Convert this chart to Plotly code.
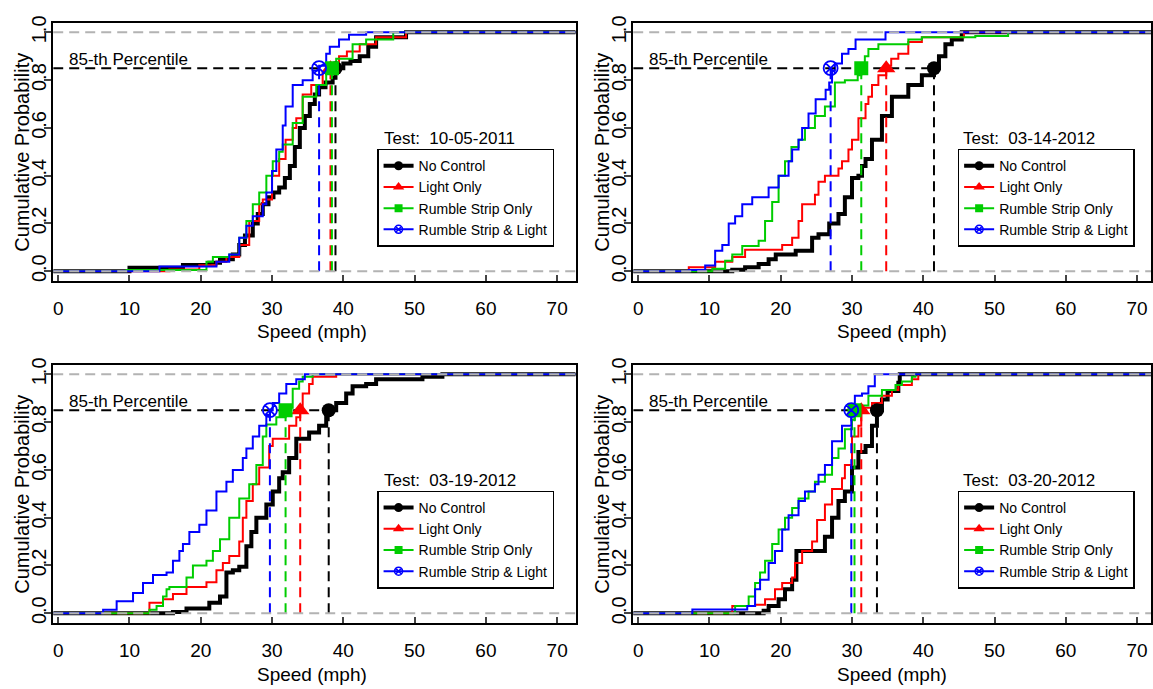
import plotly.graph_objects as go

# ---------------- data ----------------
series_names = ["No Control", "Light Only", "Rumble Strip Only", "Rumble Strip & Light"]
test_dates = ["10-05-2011", "03-14-2012", "03-19-2012", "03-20-2012"]

# Test 10-05-2011
t1_nc_speed = [10.0, 17.5, 21.2, 22.7, 24.5, 25.4, 26.2, 27.3, 28.0, 28.7, 29.5, 30.2, 31.0, 31.8, 32.5, 33.2, 33.9, 34.6, 35.3, 36.0, 36.6, 37.5, 38.5, 38.9, 40.0, 41.0, 42.3, 43.5, 44.6, 48.8]
t1_nc_prob = [0.014, 0.026, 0.035, 0.05, 0.07, 0.11, 0.15, 0.20, 0.24, 0.28, 0.31, 0.33, 0.35, 0.39, 0.44, 0.52, 0.60, 0.65, 0.70, 0.74, 0.77, 0.79, 0.81, 0.85, 0.87, 0.88, 0.90, 0.94, 0.98, 1.0]
t1_lo_speed = [15.6, 19.8, 22.2, 23.6, 25.4, 26.8, 28.2, 28.7, 30.0, 31.0, 31.9, 32.9, 33.4, 34.3, 35.5, 37.1, 38.2, 39.4, 40.5, 42.3, 44.6, 48.8]
t1_lo_prob = [0.007, 0.025, 0.04, 0.06, 0.11, 0.21, 0.28, 0.30, 0.40, 0.47, 0.55, 0.60, 0.64, 0.74, 0.78, 0.83, 0.85, 0.90, 0.92, 0.95, 0.98, 1.0]
t1_rs_speed = [9.6, 20.8, 21.7, 24.0, 25.4, 26.4, 27.3, 28.2, 29.2, 30.1, 31.0, 31.5, 32.9, 34.3, 36.2, 37.6, 38.4, 39.0, 41.3, 43.2, 47.0]
t1_rs_prob = [0.005, 0.04, 0.06, 0.07, 0.14, 0.21, 0.28, 0.33, 0.40, 0.46, 0.50, 0.53, 0.62, 0.73, 0.78, 0.84, 0.86, 0.89, 0.95, 0.97, 1.0]
t1_rsl_speed = [14.2, 22.2, 24.0, 25.4, 26.4, 27.3, 28.7, 29.2, 30.0, 30.6, 31.5, 31.9, 32.9, 34.3, 35.7, 36.6, 37.6, 38.1, 39.4, 40.8, 43.2]
t1_rsl_prob = [0.02, 0.04, 0.07, 0.14, 0.19, 0.23, 0.28, 0.33, 0.42, 0.51, 0.61, 0.69, 0.78, 0.80, 0.84, 0.86, 0.91, 0.94, 0.97, 0.99, 1.0]
t1_pct85 = [38.9, 38.2, 38.4, 36.6]

# Test 03-14-2012
t2_nc_speed = [13.2, 15.0, 16.9, 18.3, 19.3, 22.1, 24.4, 25.3, 26.8, 28.1, 29.0, 30.0, 30.9, 31.4, 31.9, 32.8, 34.2, 35.6, 37.9, 39.8, 41.5, 42.2, 43.1, 44.0, 45.4]
t2_nc_prob = [0.006, 0.017, 0.03, 0.05, 0.07, 0.086, 0.14, 0.155, 0.20, 0.24, 0.31, 0.39, 0.40, 0.44, 0.47, 0.55, 0.65, 0.73, 0.78, 0.82, 0.85, 0.90, 0.95, 0.97, 1.0]
t2_lo_speed = [7.1, 10.8, 13.2, 15.0, 20.2, 21.6, 22.5, 23.0, 24.8, 25.3, 26.2, 28.1, 28.6, 29.5, 30.0, 30.9, 31.9, 32.3, 32.8, 33.7, 34.8, 35.5, 36.5, 37.9, 39.8, 45.7]
t2_lo_prob = [0.017, 0.04, 0.06, 0.09, 0.11, 0.14, 0.21, 0.28, 0.32, 0.375, 0.40, 0.43, 0.46, 0.51, 0.55, 0.64, 0.70, 0.73, 0.78, 0.82, 0.86, 0.89, 0.91, 0.96, 0.98, 1.0]
t2_rs_speed = [10.4, 12.2, 13.2, 14.6, 16.9, 17.8, 18.8, 19.7, 20.6, 21.5, 22.5, 23.4, 24.8, 26.2, 27.6, 29.0, 30.8, 31.3, 31.8, 32.3, 33.7, 37.9, 39.8, 47.3, 51.9]
t2_rs_prob = [0.01, 0.044, 0.07, 0.106, 0.127, 0.21, 0.29, 0.40, 0.46, 0.52, 0.55, 0.60, 0.65, 0.69, 0.79, 0.80, 0.82, 0.86, 0.90, 0.93, 0.95, 0.97, 0.98, 0.985, 1.0]
t2_rsl_speed = [7.1, 9.4, 10.8, 11.8, 12.7, 13.6, 14.6, 16.0, 18.3, 19.7, 21.1, 21.6, 22.5, 23.0, 23.9, 24.9, 26.3, 26.8, 27.2, 27.6, 28.6, 29.5, 30.5, 34.7]
t2_rsl_prob = [0.005, 0.024, 0.086, 0.11, 0.20, 0.23, 0.28, 0.31, 0.35, 0.40, 0.46, 0.51, 0.55, 0.60, 0.66, 0.72, 0.76, 0.79, 0.84, 0.87, 0.91, 0.93, 0.97, 1.0]
t2_pct85 = [41.5, 34.8, 31.3, 27.0]

# Test 03-19-2012
t3_nc_speed = [16.1, 18.0, 21.2, 22.7, 23.6, 24.5, 25.4, 26.4, 27.1, 27.8, 29.2, 30.1, 31.0, 31.5, 32.4, 33.4, 35.2, 36.6, 37.6, 38.0, 39.0, 40.4, 41.3, 43.2, 44.6, 51.1, 53.9]
t3_nc_prob = [0.005, 0.02, 0.044, 0.07, 0.17, 0.18, 0.195, 0.28, 0.34, 0.40, 0.455, 0.51, 0.565, 0.59, 0.65, 0.73, 0.757, 0.785, 0.83, 0.85, 0.88, 0.92, 0.95, 0.96, 0.98, 0.99, 1.0]
t3_lo_speed = [12.8, 14.7, 16.1, 18.0, 20.8, 22.2, 23.1, 24.0, 25.4, 25.9, 26.4, 27.3, 28.2, 29.6, 30.1, 32.4, 33.4, 33.95, 34.3, 35.2, 35.7, 39.0]
t3_lo_prob = [0.044, 0.058, 0.08, 0.11, 0.13, 0.18, 0.21, 0.24, 0.30, 0.40, 0.47, 0.54, 0.61, 0.70, 0.73, 0.785, 0.82, 0.86, 0.92, 0.96, 0.99, 1.0]
t3_rs_speed = [12.8, 13.8, 14.7, 15.2, 15.6, 18.0, 18.9, 20.8, 21.7, 22.7, 24.0, 25.4, 26.8, 27.8, 28.7, 29.2, 30.6, 31.9, 32.9, 33.8, 34.3, 35.7]
t3_rs_prob = [0.014, 0.03, 0.07, 0.10, 0.11, 0.15, 0.20, 0.22, 0.26, 0.31, 0.40, 0.48, 0.54, 0.62, 0.74, 0.79, 0.82, 0.86, 0.94, 0.97, 0.99, 1.0]
t3_rsl_speed = [6.3, 8.2, 10.5, 11.9, 13.3, 15.2, 16.1, 17.0, 17.5, 18.4, 19.8, 20.8, 22.2, 23.6, 24.5, 25.9, 26.4, 27.3, 28.2, 29.2, 29.7, 30.1, 31.0, 32.0, 33.4, 34.6]
t3_rsl_prob = [0.014, 0.05, 0.085, 0.126, 0.16, 0.17, 0.22, 0.26, 0.29, 0.34, 0.37, 0.43, 0.51, 0.55, 0.60, 0.65, 0.69, 0.74, 0.785, 0.83, 0.85, 0.88, 0.92, 0.96, 0.98, 1.0]
t3_pct85 = [37.95, 33.95, 31.9, 29.7]

# Test 03-20-2012
t4_nc_speed = [17.6, 18.3, 19.7, 20.6, 21.6, 22.2, 26.2, 27.2, 28.1, 29.0, 30.0, 30.9, 31.9, 32.8, 33.5, 34.2, 35.0, 36.5, 36.7]
t4_nc_prob = [0.01, 0.03, 0.058, 0.10, 0.14, 0.26, 0.32, 0.40, 0.47, 0.51, 0.61, 0.675, 0.70, 0.785, 0.85, 0.895, 0.93, 0.965, 1.0]
t4_lo_speed = [13.2, 16.4, 17.8, 19.2, 20.2, 21.6, 22.0, 23.0, 24.4, 25.1, 26.2, 27.2, 28.6, 29.0, 30.0, 30.9, 31.3, 32.8, 34.2, 35.6, 36.5, 38.4, 39.3]
t4_lo_prob = [0.03, 0.035, 0.058, 0.10, 0.126, 0.15, 0.21, 0.26, 0.30, 0.39, 0.455, 0.52, 0.565, 0.62, 0.74, 0.785, 0.86, 0.88, 0.91, 0.935, 0.955, 0.98, 1.0]
t4_rs_speed = [13.6, 15.5, 16.4, 17.1, 17.8, 18.8, 19.7, 20.6, 21.6, 22.5, 23.9, 24.8, 26.2, 27.2, 28.1, 29.0, 30.0, 30.4, 30.9, 32.3, 34.2, 36.1, 37.0, 38.4, 38.9]
t4_rs_prob = [0.03, 0.07, 0.126, 0.17, 0.22, 0.29, 0.35, 0.40, 0.44, 0.48, 0.51, 0.55, 0.58, 0.65, 0.69, 0.77, 0.81, 0.86, 0.87, 0.91, 0.935, 0.955, 0.97, 0.99, 1.0]
t4_rsl_speed = [7.6, 15.3, 16.4, 17.1, 18.3, 19.2, 20.2, 21.1, 22.5, 23.4, 24.8, 25.3, 26.2, 27.2, 28.6, 29.9, 30.4, 31.4, 32.3, 33.2]
t4_rsl_prob = [0.016, 0.03, 0.10, 0.14, 0.21, 0.26, 0.35, 0.41, 0.47, 0.51, 0.54, 0.58, 0.62, 0.72, 0.785, 0.86, 0.91, 0.92, 0.95, 1.0]
t4_pct85 = [33.5, 31.3, 30.35, 29.9]

x_tick_vals = [0, 10, 20, 30, 40, 50, 60, 70]
y_tick_vals = [0.0, 0.2, 0.4, 0.6, 0.8, 1.0]
y_tick_text = ["0.0", "0.2", "0.4", "0.6", "0.8", "1.0"]
percentile_level = 0.85
percentile_label = "85-th Percentile"

panels = [
    (test_dates[0], [(t1_nc_speed, t1_nc_prob), (t1_lo_speed, t1_lo_prob), (t1_rs_speed, t1_rs_prob), (t1_rsl_speed, t1_rsl_prob)], t1_pct85),
    (test_dates[1], [(t2_nc_speed, t2_nc_prob), (t2_lo_speed, t2_lo_prob), (t2_rs_speed, t2_rs_prob), (t2_rsl_speed, t2_rsl_prob)], t2_pct85),
    (test_dates[2], [(t3_nc_speed, t3_nc_prob), (t3_lo_speed, t3_lo_prob), (t3_rs_speed, t3_rs_prob), (t3_rsl_speed, t3_rsl_prob)], t3_pct85),
    (test_dates[3], [(t4_nc_speed, t4_nc_prob), (t4_lo_speed, t4_lo_prob), (t4_rs_speed, t4_rs_prob), (t4_rsl_speed, t4_rsl_prob)], t4_pct85),
]

# ---------------- style ----------------
W, H = 1153, 689
FONT = "Liberation Sans, Arial, sans-serif"
colors = ["#000000", "#ff0000", "#00cd00", "#0000ff"]
line_widths = [4, 2, 2, 2]
symbols = ["circle", "triangle-up", "square", "circle-x-open"]
marker_sizes = [14, 16, 14, 14]
legend_marker_sizes = [9, 10, 8, 8]
gray = "#b3b3b3"
dash = "10px,6px"

x_domains = [[0.04623, 0.50017], [0.55013, 1.0], [0.04623, 0.50017], [0.55013, 1.0]]
y_domains = [[0.598, 0.9768], [0.598, 0.9768], [0.0958, 0.4746], [0.0958, 0.4746]]
x_ranges = [[-0.7, 72.6], [-0.7, 71.95], [-0.7, 72.6], [-0.7, 71.95]]
y_range = [-0.04, 1.04]
legend_pos = [(0.3276, 0.792), (0.832, 0.792), (0.3276, 0.290), (0.832, 0.290)]
ytitle_x = [22 / W, 603 / W, 22 / W, 603 / W]
xtitle_y = [1 - 328 / H, 1 - 328 / H, 1 - 675 / H, 1 - 675 / H]

fig = go.Figure()
layout = dict(
    width=W, height=H, margin=dict(l=0, r=0, t=0, b=0),
    paper_bgcolor="white", plot_bgcolor="white",
    font=dict(family=FONT, color="black"),
    showlegend=True,
    annotations=[], shapes=[],
)

for k, (date, curves, pct) in enumerate(panels):
    n = k + 1
    xa = "x" if n == 1 else f"x{n}"
    ya = "y" if n == 1 else f"y{n}"
    leg = "legend" if n == 1 else f"legend{n}"
    x_left, x_right = x_ranges[k]

    # ECDF step curves
    for i, (sp, pr) in enumerate(curves):
        fig.add_trace(go.Scatter(
            x=[x_left] + list(sp) + [x_right], y=[0] + list(pr) + [1],
            mode="lines", line=dict(color=colors[i], width=line_widths[i], shape="hv"),
            xaxis=xa, yaxis=ya, showlegend=False, hoverinfo="skip"))

    # vertical percentile drop lines
    for i, p in enumerate(pct):
        fig.add_trace(go.Scatter(
            x=[p, p], y=[0, percentile_level], mode="lines",
            line=dict(color=colors[i], width=2, dash=dash),
            xaxis=xa, yaxis=ya, showlegend=False, hoverinfo="skip"))
    # horizontal percentile line
    fig.add_trace(go.Scatter(
        x=[x_left, max(pct)], y=[percentile_level, percentile_level], mode="lines",
        line=dict(color="black", width=2, dash=dash),
        xaxis=xa, yaxis=ya, showlegend=False, hoverinfo="skip"))
    # percentile markers
    for i, p in enumerate(pct):
        mk = dict(symbol=symbols[i], size=marker_sizes[i], color=colors[i])
        if symbols[i].endswith("open"):
            mk["line"] = dict(color=colors[i], width=1.8)
        fig.add_trace(go.Scatter(
            x=[p], y=[percentile_level], mode="markers", marker=mk,
            xaxis=xa, yaxis=ya, showlegend=False, hoverinfo="skip"))
    # legend entries
    for i, name in enumerate(series_names):
        mk = dict(symbol=symbols[i], size=legend_marker_sizes[i], color=colors[i])
        if symbols[i].endswith("open"):
            mk["line"] = dict(color=colors[i], width=1.5)
        fig.add_trace(go.Scatter(
            x=[None], y=[None], mode="lines+markers", name=name,
            line=dict(color=colors[i], width=line_widths[i]), marker=mk,
            xaxis=xa, yaxis=ya, legend=leg, showlegend=True))

    # 0 / 1 reference lines
    for yv in (0, 1):
        layout["shapes"].append(dict(
            type="line", xref=f"{xa} domain", yref=ya, x0=0, x1=1, y0=yv, y1=yv,
            line=dict(color=gray, width=2, dash=dash), layer="above"))

    layout[f"xaxis{'' if n == 1 else n}"] = dict(
        domain=x_domains[k], range=x_ranges[k], anchor=ya,
        tickvals=x_tick_vals, ticks="inside", ticklen=6, tickwidth=1.5,
        showline=True, mirror=True, linecolor="black", linewidth=2,
        showgrid=False, zeroline=False, ticklabelstandoff=9,
        tickfont=dict(size=19, family=FONT, color="black"))
    layout[f"yaxis{'' if n == 1 else n}"] = dict(
        domain=y_domains[k], range=y_range, anchor=xa,
        tickvals=y_tick_vals, ticktext=y_tick_text, ticks="outside", ticklen=7, tickwidth=1.5,
        tickangle=-90, showline=True, mirror=True, linecolor="black", linewidth=2,
        showgrid=False, zeroline=False, ticklabelstandoff=-10,
        tickfont=dict(size=20, family=FONT, color="black"))

    lx, ly = legend_pos[k]
    layout[leg] = dict(
        x=lx, y=ly, xanchor="left", yanchor="top", xref="paper", yref="paper",
        bgcolor="white", bordercolor="black", borderwidth=1.5,
        font=dict(size=14, family=FONT, color="black"), tracegroupgap=0)

    layout["annotations"] += [
        dict(text=percentile_label, xref=xa, yref=ya, x=1.3, y=percentile_level,
             xanchor="left", yanchor="bottom", yshift=-3, showarrow=False,
             font=dict(size=17, family=FONT, color="black")),
        dict(text=f"Test:  {date}", xref=xa, yref=ya, x=54.9, y=0.555,
             xanchor="center", yanchor="middle", showarrow=False,
             font=dict(size=17, family=FONT, color="black")),
        dict(text="Cumulative Probability", xref="paper", yref="paper",
             x=ytitle_x[k], y=sum(y_domains[k]) / 2, textangle=-90,
             xanchor="center", yanchor="middle", showarrow=False,
             font=dict(size=20, family=FONT, color="black")),
        dict(text="Speed (mph)", xref="paper", yref="paper",
             x=(x_domains[k][0] * W + (58.3 - 53.3) + (312.5 - 58.3)) / W, y=xtitle_y[k],
             xanchor="center", yanchor="middle", showarrow=False,
             font=dict(size=19, family=FONT, color="black")),
    ]

fig.update_layout(**layout)
fig.write_html("out.html", config={"displayModeBar": False},
               post_script="document.body.style.margin='0px';document.body.style.overflow='hidden';")
